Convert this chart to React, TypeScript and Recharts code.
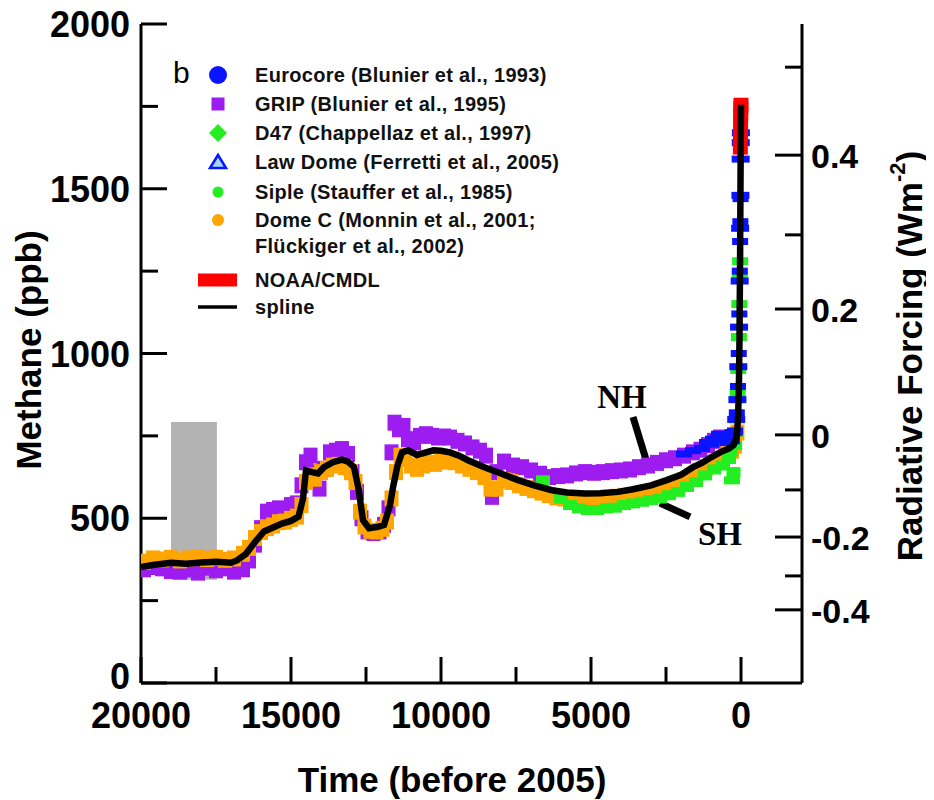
import {
  ComposedChart,
  Line,
  Scatter,
  XAxis,
  YAxis,
  ReferenceArea,
  ReferenceLine,
  ReferenceDot,
} from "recharts";

// time in years before 2005, methane in ppb
const timeTicks = [20000, 17500, 15000, 12500, 10000, 7500, 5000, 2500, 0];
const methaneTicks = [0, 250, 500, 750, 1000, 1250, 1500, 1750, 2000];
const forcingTickPpb = [222, 325, 443, 586, 753, 929, 1135, 1360, 1602, 1869];
const forcingTickLabels = ["-0.4", "", "-0.2", "", "0", "", "0.2", "", "0.4", ""];

const spline: [number, number][] = [
  [20000, 352], [19600, 358], [19000, 365], [18500, 362], [18000, 366], [17500, 368],
  [17000, 365], [16800, 372], [16500, 392], [16200, 428], [15900, 460], [15600, 472],
  [15300, 484], [15000, 492], [14750, 505], [14600, 560], [14500, 645], [14300, 640],
  [14100, 636], [13900, 655], [13600, 670], [13300, 678], [13100, 672], [12900, 655],
  [12750, 590], [12600, 494], [12400, 470], [12100, 474], [11900, 480], [11700, 540],
  [11600, 594], [11450, 660], [11300, 700], [11100, 706], [10800, 692], [10500, 700],
  [10250, 706], [10000, 705], [9700, 700], [9400, 690], [9100, 676], [8600, 656],
  [8000, 636], [7500, 618], [6900, 600], [6300, 585], [5800, 578], [5200, 575],
  [4700, 576], [4100, 580], [3600, 588], [3000, 600], [2500, 615], [2000, 632],
  [1600, 655], [1300, 668], [1000, 685], [700, 700], [400, 712], [250, 722],
  [150, 745], [100, 800], [70, 900], [50, 1050], [30, 1300], [15, 1550], [0, 1755],
];

const grip: [number, number][] = [
  [19900, 345], [19600, 352], [19300, 348], [19000, 340], [18700, 338], [18400, 345],
  [18100, 335], [17800, 350], [17500, 342], [17200, 348], [16900, 338], [16600, 345],
  [16400, 372], [16200, 420], [16000, 470], [15800, 520], [15600, 525], [15400, 530],
  [15200, 528], [15000, 540], [14800, 545], [14650, 600], [14500, 670], [14350, 690],
  [14200, 640], [14050, 590], [13900, 650], [13700, 700], [13500, 705], [13300, 710],
  [13100, 695], [12950, 640], [12800, 580], [12650, 500], [12450, 460], [12250, 455],
  [12050, 460], [11900, 480], [11750, 530], [11650, 700], [11550, 790], [11400, 770],
  [11250, 780], [11100, 740], [10900, 730], [10700, 750], [10500, 755], [10300, 750],
  [10100, 745], [9900, 748], [9700, 745], [9450, 735], [9200, 727], [8950, 715],
  [8700, 705], [8500, 690], [8300, 565], [8150, 640], [7900, 672], [7600, 660],
  [7300, 655], [7000, 645], [6700, 635], [6400, 625], [6100, 628], [5800, 630],
  [5500, 636], [5200, 640], [4900, 638], [4600, 640], [4300, 643], [4000, 645],
  [3700, 648], [3400, 655], [3100, 660], [2800, 668], [2500, 676], [2200, 682],
  [1900, 690], [1600, 700], [1350, 708], [1100, 722], [900, 735], [700, 745],
];

const domeC: [number, number][] = [
  [19900, 368], [19600, 378], [19300, 375], [19000, 380], [18700, 372], [18400, 378],
  [18100, 382], [17800, 376], [17500, 380], [17200, 374], [16900, 378], [16600, 392],
  [16400, 410], [16200, 440], [16000, 458], [15800, 470], [15600, 478], [15400, 488],
  [15200, 490], [15000, 498], [14800, 505], [14650, 540], [14500, 610], [14350, 630],
  [14200, 620], [14000, 640], [13800, 650], [13600, 660], [13400, 662], [13200, 655],
  [13000, 640], [12850, 610], [12700, 520], [12550, 475], [12350, 462], [12150, 460],
  [11950, 468], [11800, 490], [11650, 560], [11500, 640], [11350, 690], [11200, 680],
  [11000, 660], [10800, 650], [10600, 660], [10400, 668], [10200, 665], [10000, 672],
  [9800, 675], [9550, 670], [9300, 660], [9050, 650], [8800, 640], [8550, 625],
  [8350, 590], [8150, 590], [7900, 615], [7650, 610], [7400, 600], [7150, 592],
  [6900, 585], [6650, 578], [6400, 570], [6150, 563], [5900, 560], [5650, 558],
  [5400, 556], [5150, 556], [4900, 558], [4650, 560], [4400, 562], [4150, 565],
  [3900, 568], [3650, 570], [3400, 574], [3150, 578], [2900, 582], [2650, 590],
  [2400, 598], [2150, 606], [1900, 616], [1650, 628], [1400, 642], [1150, 655],
  [900, 668], [650, 680], [450, 695], [300, 705], [200, 720], [120, 760],
];

const d47: [number, number][] = [
  [6600, 615], [6000, 560], [5700, 540], [5400, 530], [5100, 525], [4800, 525],
  [4500, 530], [4200, 532], [3900, 540], [3600, 545], [3300, 550], [3000, 555],
  [2700, 560], [2400, 570], [2100, 580], [1800, 595], [1500, 610], [1200, 630],
  [900, 648], [600, 660], [400, 680], [250, 640],
];

const siple: [number, number][] = [
  [380, 700], [300, 615], [230, 720], [180, 760], [140, 800], [110, 880],
  [90, 950], [70, 1050], [55, 1150], [40, 1240], [30, 1280],
];

const lawDome: [number, number][] = [
  [1900, 695], [1600, 705], [1300, 712], [1000, 725], [800, 740], [600, 745],
  [450, 730], [300, 735], [200, 765], [140, 820], [100, 900], [75, 1000],
  [55, 1120], [40, 1250], [30, 1340], [22, 1400], [15, 1470],
];

const eurocore: [number, number][] = [
  [1100, 730], [900, 740], [700, 755], [500, 745], [350, 740], [250, 760],
  [160, 800], [120, 860], [90, 960], [65, 1080], [45, 1220], [30, 1380],
  [20, 1480], [12, 1590], [8, 1640], [4, 1670],
];

const noaa: [number, number][] = [
  [22, 1625], [18, 1660], [14, 1700], [10, 1725], [6, 1745], [2, 1755],
];

const PURPLE = "#9d1cf0";
const ORANGE = "#ffa500";
const GREEN = "#22ee22";
const BLUE = "#0a14ff";
const RED = "#ff0000";
const FONT = "'Liberation Sans', Arial, sans-serif";

const rows = (pts: [number, number][]) => pts.map(([t, v]) => ({ t, v }));

const box = (fill: string, w: number, h: number) => (p: any) =>
  <rect x={p.cx - w / 2} y={p.cy - h / 2} width={w} height={h} fill={fill} />;

const BottomTick = (p: any) => {
  const major = p.payload.value % 5000 === 0;
  return (
    <g>
      <line x1={p.x} x2={p.x} y1={p.y} y2={p.y - (major ? 26 : 16)} stroke="#000" strokeWidth={3} />
      {major && (
        <text x={p.x} y={p.y + 45} textAnchor="middle" fontFamily={FONT} fontWeight="bold" fontSize={36}>
          {p.payload.value}
        </text>
      )}
    </g>
  );
};

const TopTick = (p: any) => {
  const major = p.payload.value % 5000 === 0;
  return <line x1={p.x} x2={p.x} y1={p.y} y2={p.y + (major ? 26 : 16)} stroke="#000" strokeWidth={3} />;
};

const LeftTick = (p: any) => {
  const major = p.payload.value % 500 === 0;
  // the zero label sits a little higher so it clears the time labels
  const dy = p.payload.value === 0 ? 6 : 13;
  return (
    <g>
      <line x1={p.x} x2={p.x + (major ? 26 : 17)} y1={p.y} y2={p.y} stroke="#000" strokeWidth={3} />
      {major && (
        <text x={p.x - 11} y={p.y + dy} textAnchor="end" fontFamily={FONT} fontWeight="bold" fontSize={36}>
          {p.payload.value}
        </text>
      )}
    </g>
  );
};

const RightTick = (p: any) => {
  const label = forcingTickLabels[forcingTickPpb.indexOf(p.payload.value)];
  const major = label !== "";
  return (
    <g>
      <line x1={p.x} x2={p.x - (major ? 27 : 17)} y1={p.y} y2={p.y} stroke="#000" strokeWidth={3} />
      {major && (
        <text x={p.x + 9} y={p.y + 13} textAnchor="start" fontFamily={FONT} fontWeight="bold" fontSize={34}>
          {label}
        </text>
      )}
    </g>
  );
};

const noteLabel = (text: string) => (p: any) => {
  const vb = p.viewBox;
  return (
    <text x={vb.x + vb.width / 2} y={vb.y + vb.height / 2} textAnchor="middle"
      fontFamily="'Liberation Serif', serif" fontWeight="bold" fontSize={33}>
      {text}
    </text>
  );
};

const legendRows = [
  { label: "Eurocore  (Blunier et al., 1993)", y: 67, mark: "circle" },
  { label: "GRIP (Blunier et al., 1995)", y: 96, mark: "square" },
  { label: "D47 (Chappellaz et al., 1997)", y: 125, mark: "diamond" },
  { label: "Law Dome (Ferretti et al., 2005)", y: 154, mark: "triangle" },
  { label: "Siple (Stauffer et al., 1985)", y: 184, mark: "dot" },
  { label: "Dome C (Monnin et al., 2001;", y: 212, mark: "orange" },
  { label: "Flückiger et al., 2002)", y: 238, mark: "" },
  { label: "NOAA/CMDL", y: 272, mark: "bar" },
  { label: "spline", y: 299, mark: "line" },
];

const Marker = ({ mark, y }: { mark: string; y: number }) => {
  const cx = 210;
  switch (mark) {
    case "circle":
      return <circle cx={cx} cy={y} r={9} fill={BLUE} />;
    case "square":
      return <rect x={cx - 6.5} y={y - 6.5} width={13} height={13} fill={PURPLE} />;
    case "diamond":
      return <polygon points={`${cx},${y - 9} ${cx + 9},${y} ${cx},${y + 9} ${cx - 9},${y}`} fill={GREEN} />;
    case "triangle":
      return <polygon points={`${cx},${y - 7} ${cx + 8},${y + 6} ${cx - 8},${y + 6}`} fill="#9fd8ff" stroke={BLUE} strokeWidth={2.5} />;
    case "dot":
      return <circle cx={cx} cy={y} r={5.5} fill={GREEN} />;
    case "orange":
      return <circle cx={cx} cy={y} r={6} fill={ORANGE} />;
    case "bar":
      return <rect x={cx - 20} y={y - 6.5} width={39} height={13} fill={RED} />;
    case "line":
      return <line x1={cx - 20} x2={cx + 19} y1={y} y2={y} stroke="#000" strokeWidth={3.5} />;
    default:
      return null;
  }
};

export default function App() {
  return (
    <div style={{ position: "relative", width: 926, height: 792 }}>
      <ComposedChart width={926} height={792} margin={{ top: 16, right: 0, bottom: 0, left: 0 }}>
        <XAxis xAxisId="b" dataKey="t" type="number" domain={[-2033, 20000]} reversed allowDataOverflow
          ticks={timeTicks} interval={0} height={117} tickSize={0} tickMargin={0} tickLine={false}
          tick={<BottomTick />} axisLine={{ stroke: "#000", strokeWidth: 3 }} />
        <XAxis xAxisId="t" orientation="top" dataKey="t" type="number" domain={[-2033, 20000]} reversed allowDataOverflow
          ticks={timeTicks} interval={0} height={0} tickSize={0} tickMargin={0} tickLine={false}
          tick={<TopTick />} axisLine={{ stroke: "#000", strokeWidth: 3 }} />
        <YAxis yAxisId="l" dataKey="v" type="number" domain={[0, 2000]} allowDataOverflow
          ticks={methaneTicks} interval={0} width={133} tickSize={0} tickMargin={0} tickLine={false}
          tick={<LeftTick />} axisLine={{ stroke: "#000", strokeWidth: 3 }} />
        <YAxis yAxisId="r" orientation="right" type="number" domain={[0, 2000]} allowDataOverflow
          ticks={forcingTickPpb} interval={0} width={132} tickSize={0} tickMargin={0} tickLine={false}
          tick={<RightTick />} axisLine={{ stroke: "#000", strokeWidth: 3 }} />

        <ReferenceArea xAxisId="b" yAxisId="l" x1={19000} x2={17470} y1={313} y2={792}
          fill="#b3b3b3" fillOpacity={1} stroke="none" />

        <Scatter name="GRIP" xAxisId="b" yAxisId="l" data={rows(grip)} dataKey="v" shape={box(PURPLE, 14, 16)} isAnimationActive={false} />
        <Scatter name="Dome C" xAxisId="b" yAxisId="l" data={rows(domeC)} dataKey="v" shape={box(ORANGE, 14, 16)} isAnimationActive={false} />
        <Scatter name="D47" xAxisId="b" yAxisId="l" data={rows(d47)} dataKey="v" shape={box(GREEN, 14, 10)} isAnimationActive={false} />
        <Scatter name="Siple" xAxisId="b" yAxisId="l" data={rows(siple)} dataKey="v" shape={box(GREEN, 16, 8)} isAnimationActive={false} />
        <Scatter name="Law Dome" xAxisId="b" yAxisId="l" data={rows(lawDome)} dataKey="v" shape={box(BLUE, 16, 7)} isAnimationActive={false} />
        <Scatter name="Eurocore" xAxisId="b" yAxisId="l" data={rows(eurocore)} dataKey="v" shape={box(BLUE, 18, 7)} isAnimationActive={false} />
        <Scatter name="NOAA/CMDL" xAxisId="b" yAxisId="l" data={rows(noaa)} dataKey="v" shape={box(RED, 15, 14)} isAnimationActive={false} />

        <Line name="spline" xAxisId="b" yAxisId="l" data={rows(spline)} dataKey="v" type="linear"
          stroke="#000" strokeWidth={6.5} dot={false} isAnimationActive={false} zIndex={700} />

        <ReferenceLine xAxisId="b" yAxisId="l" segment={[{ x: 3600, y: 807 }, { x: 3133, y: 668 }]}
          stroke="#000" strokeWidth={7} />
        <ReferenceLine xAxisId="b" yAxisId="l" segment={[{ x: 2700, y: 546 }, { x: 1700, y: 504 }]}
          stroke="#000" strokeWidth={7} />
        <ReferenceDot xAxisId="b" yAxisId="l" x={3967} y={835} r={0} fill="none" stroke="none" label={noteLabel("NH")} />
        <ReferenceDot xAxisId="b" yAxisId="l" x={700} y={419} r={0} fill="none" stroke="none" label={noteLabel("SH")} />
      </ComposedChart>

      <svg width={926} height={792} style={{ position: "absolute", left: 0, top: 0, pointerEvents: "none" }}>
        <text x={165} y={75} fontFamily={FONT} fontSize={30}>b</text>
        {legendRows.map((r) => (
          <g key={r.label}>
            <Marker mark={r.mark} y={r.y} />
            <text x={247} y={r.y + 7} fontFamily={FONT} fontWeight="bold" fontSize={20} letterSpacing={0.3} fill="#111">
              {r.label}
            </text>
          </g>
        ))}
        <text x={444} y={784} textAnchor="middle" fontFamily={FONT} fontWeight="bold" fontSize={35}>
          Time (before 2005)
        </text>
        <text x={20} y={342} transform="rotate(-90 20 342)" textAnchor="middle" dominantBaseline="central"
          fontFamily={FONT} fontWeight="bold" fontSize={35}>
          Methane (ppb)
        </text>
        <text x={901} y={348} transform="rotate(-90 901 348)" textAnchor="middle" dominantBaseline="central"
          fontFamily={FONT} fontWeight="bold" fontSize={35}>
          Radiative Forcing (Wm<tspan dy={-12} fontSize={22}>-2</tspan><tspan dy={12}>)</tspan>
        </text>
      </svg>
    </div>
  );
}
